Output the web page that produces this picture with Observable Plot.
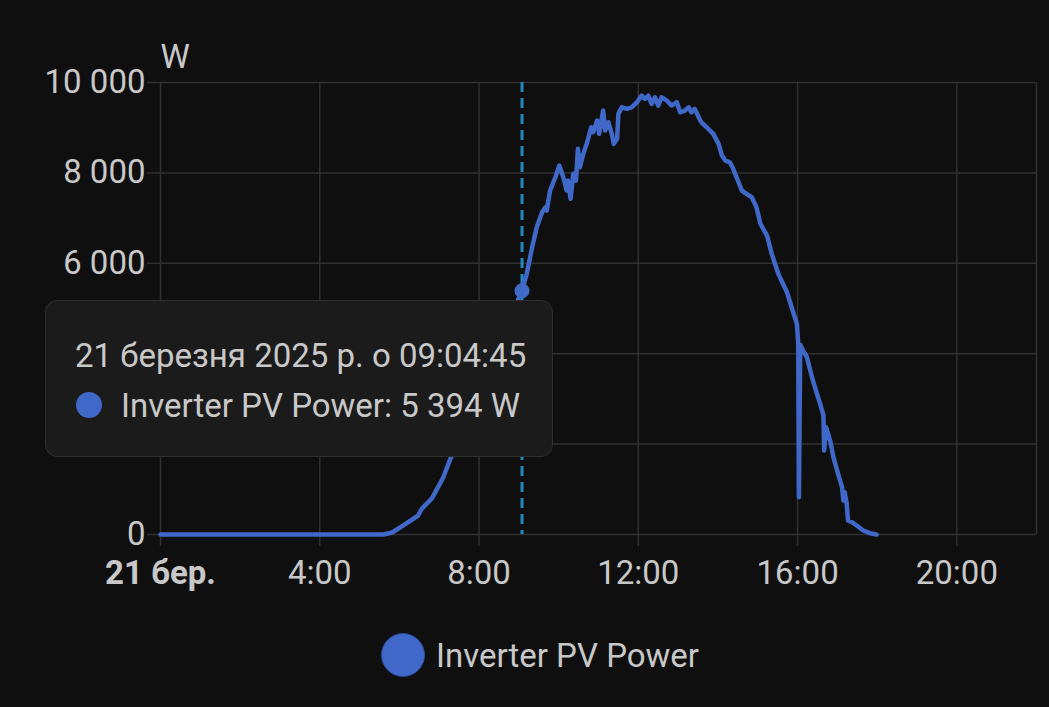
<!DOCTYPE html>
<html>
<head>
<meta charset="utf-8">
<script src="https://cdn.jsdelivr.net/npm/d3@7"></script>
<script src="https://cdn.jsdelivr.net/npm/@observablehq/plot@0.6"></script>
<style>
  html, body { margin: 0; padding: 0; background: #0f0f0f; }
  #wrap { position: relative; width: 1049px; height: 707px; background: #0f0f0f; font-family: Roboto, sans-serif; color: #c8c8c8; overflow: hidden; }
  #tip { position: absolute; left: 45px; top: 300px; width: 508px; height: 157px; box-sizing: border-box;
         background: #1b1b1b; border: 1.5px solid #2f2f2f; border-radius: 12px; font-size: 33px; color: #c8c8c8; }
  #tip .l1 { position: absolute; left: 29px; top: 54px; transform: translateY(-50%); white-space: nowrap; }
  #tip .dot { position: absolute; left: 30px; top: 91px; width: 26px; height: 26px; border-radius: 50%; }
  #tip .l2 { position: absolute; left: 75px; top: 104px; transform: translateY(-50%); white-space: nowrap; }
  #legend { position: absolute; left: 0; top: 600px; width: 1049px; height: 107px; font-size: 33px; }
  #legend .dot { position: absolute; left: 381px; top: 33px; width: 44px; height: 44px; border-radius: 50%; box-sizing: border-box; border: 1.5px solid #2a4a9a; }
  #legend .txt { position: absolute; left: 436px; top: 55px; transform: translateY(-50%); white-space: nowrap; }
</style>
</head>
<body>
<div id="wrap"></div>
<script>
// ---- data ----
const seriesName = "Inverter PV Power";
const seriesColor = "#4068c8";
const dateLabel = "21 березня 2025 р.";
const times = [
  "00:00","05:36","05:49","06:06","06:28","06:34","06:49","07:06","07:17","07:39","08:02","08:24","08:44","09:04:45",
  "09:12","09:20","09:27","09:35","09:40","09:42","09:47","09:55","10:01","10:07","10:12","10:14","10:18","10:22",
  "10:26","10:29","10:32","10:37","10:43","10:49","10:52","10:58","11:01","11:07","11:10","11:15","11:20","11:23",
  "11:28","11:30","11:35","11:43","11:50","11:58","12:05","12:10","12:15","12:20","12:25","12:30","12:35","12:43",
  "12:50","12:58","13:03","13:10","13:16","13:20","13:25","13:31","13:35","13:43","13:53","14:01","14:06","14:11",
  "14:18","14:23","14:31","14:36","14:43","14:51","14:58","15:04","15:14","15:21","15:31","15:44","15:51","15:59",
  "16:01","16:02","16:04","16:07","16:14","16:23","16:34","16:39","16:40","16:43","16:49","16:54","17:01","17:07",
  "17:09","17:11","17:14","17:16","17:22","17:29","17:39","17:49","17:59"
];
const watts = [
  0,0,45,200,420,575,800,1260,1680,2455,3185,3960,4690,5394,
  5773,6355,6798,7129,7240,7167,7609,7904,8162,7904,7609,7830,7426,7979,
  7830,8532,8125,8421,8678,9010,8899,9158,8863,9379,8936,9120,8863,8642,
  8753,9306,9452,9417,9452,9563,9710,9638,9710,9527,9673,9490,9673,9600,
  9490,9563,9341,9379,9452,9341,9417,9231,9120,9010,8863,8642,8384,8273,
  8235,8090,7793,7609,7536,7461,7240,6873,6614,6209,5767,5360,5028,4661,
  4218,825,4200,4100,3922,3407,2891,2632,1858,2373,2079,1710,1342,1046,
  752,936,679,310,272,199,88,29,0
];
const hoverTime = "09:04:45";
const hoverWatts = 5394;
const yTicks = [0, 2000, 4000, 6000, 8000, 10000];
const yTicksHidden = [2000, 4000]; // covered by the tooltip in the reference
const xTickHours = [0, 4, 8, 12, 16, 20];
const xTickLabels = ["21 бер.", "4:00", "8:00", "12:00", "16:00", "20:00"];
const xEndHour = 22;
const unit = "W";

// ---- helpers ----
const parse = s => { const [h, m = 0, sec = 0] = String(s).split(":").map(Number); return new Date(2025, 2, 21, h, m, sec); };
const loc = d3.formatLocale({decimal: ",", thousands: " ", grouping: [3], currency: ["", ""]});
const fmt = loc.format(",d");

const data = times.map((t, i) => ({t: parse(t), w: watts[i]}));
const hover = {t: parse(hoverTime), w: hoverWatts};
const gridColor = "#303030";
const textColor = "#c8c8c8";

const chart = Plot.plot({
  width: 1049, height: 600,
  marginTop: 82, marginLeft: 160, marginRight: 13, marginBottom: 66,
  style: {background: "transparent", color: textColor, fontFamily: "Roboto, sans-serif", fontSize: "33px", overflow: "visible"},
  x: {domain: [parse("0"), parse(String(xEndHour))], label: null},
  y: {domain: [0, 10000], label: null},
  marks: [
    Plot.ruleY(yTicks, {stroke: gridColor, strokeWidth: 1.5}),
    Plot.ruleX([...xTickHours, xEndHour].map(h => parse(String(h))), {stroke: gridColor, strokeWidth: 1.5}),
    Plot.axisY({ticks: yTicks, tickSize: 13, tickPadding: 2,
      tickFormat: d => yTicksHidden.includes(d) ? "" : fmt(d),
      stroke: gridColor, strokeWidth: 1.5, strokeOpacity: 1, fill: textColor}),
    Plot.axisX({ticks: xTickHours.map(h => parse(String(h))), tickSize: 12, tickPadding: 14,
      tickFormat: d => xTickLabels[xTickHours.indexOf(d.getHours())], stroke: gridColor, strokeWidth: 1.5, strokeOpacity: 1, fill: textColor}),
    Plot.ruleX([hover], {x: "t", stroke: "#1f8ac2", strokeWidth: 3, strokeDasharray: "10,6"}),
    Plot.line(data, {x: "t", y: "w", stroke: seriesColor, strokeWidth: 4.5, strokeLinejoin: "round", strokeLinecap: "round"}),
    Plot.dot([hover], {x: "t", y: "w", r: 7.5, fill: seriesColor}),
    Plot.text([unit], {frameAnchor: "top-left", dx: 0, dy: -25, textAnchor: "start", lineAnchor: "middle", fontSize: 33, fill: textColor})
  ]
});

const wrap = document.getElementById("wrap");
wrap.appendChild(chart);
// bold first x tick label (date)
const xLabels = chart.querySelectorAll('[aria-label="x-axis tick label"] text');
if (xLabels.length) xLabels[0].setAttribute("font-weight", "bold");

// tooltip
const tip = document.createElement("div");
tip.id = "tip";
const pad = n => String(n).padStart(2, "0");
const ht = hover.t;
tip.innerHTML = `<div class="l1">${dateLabel} о ${pad(ht.getHours())}:${pad(ht.getMinutes())}:${pad(ht.getSeconds())}</div>
<div class="dot" style="background:${seriesColor}"></div>
<div class="l2">${seriesName}: ${fmt(hover.w)} ${unit}</div>`;
wrap.appendChild(tip);

// legend
const legend = document.createElement("div");
legend.id = "legend";
legend.innerHTML = `<div class="dot" style="background:${seriesColor}"></div><div class="txt">${seriesName}</div>`;
wrap.appendChild(legend);
</script>
</body>
</html>
